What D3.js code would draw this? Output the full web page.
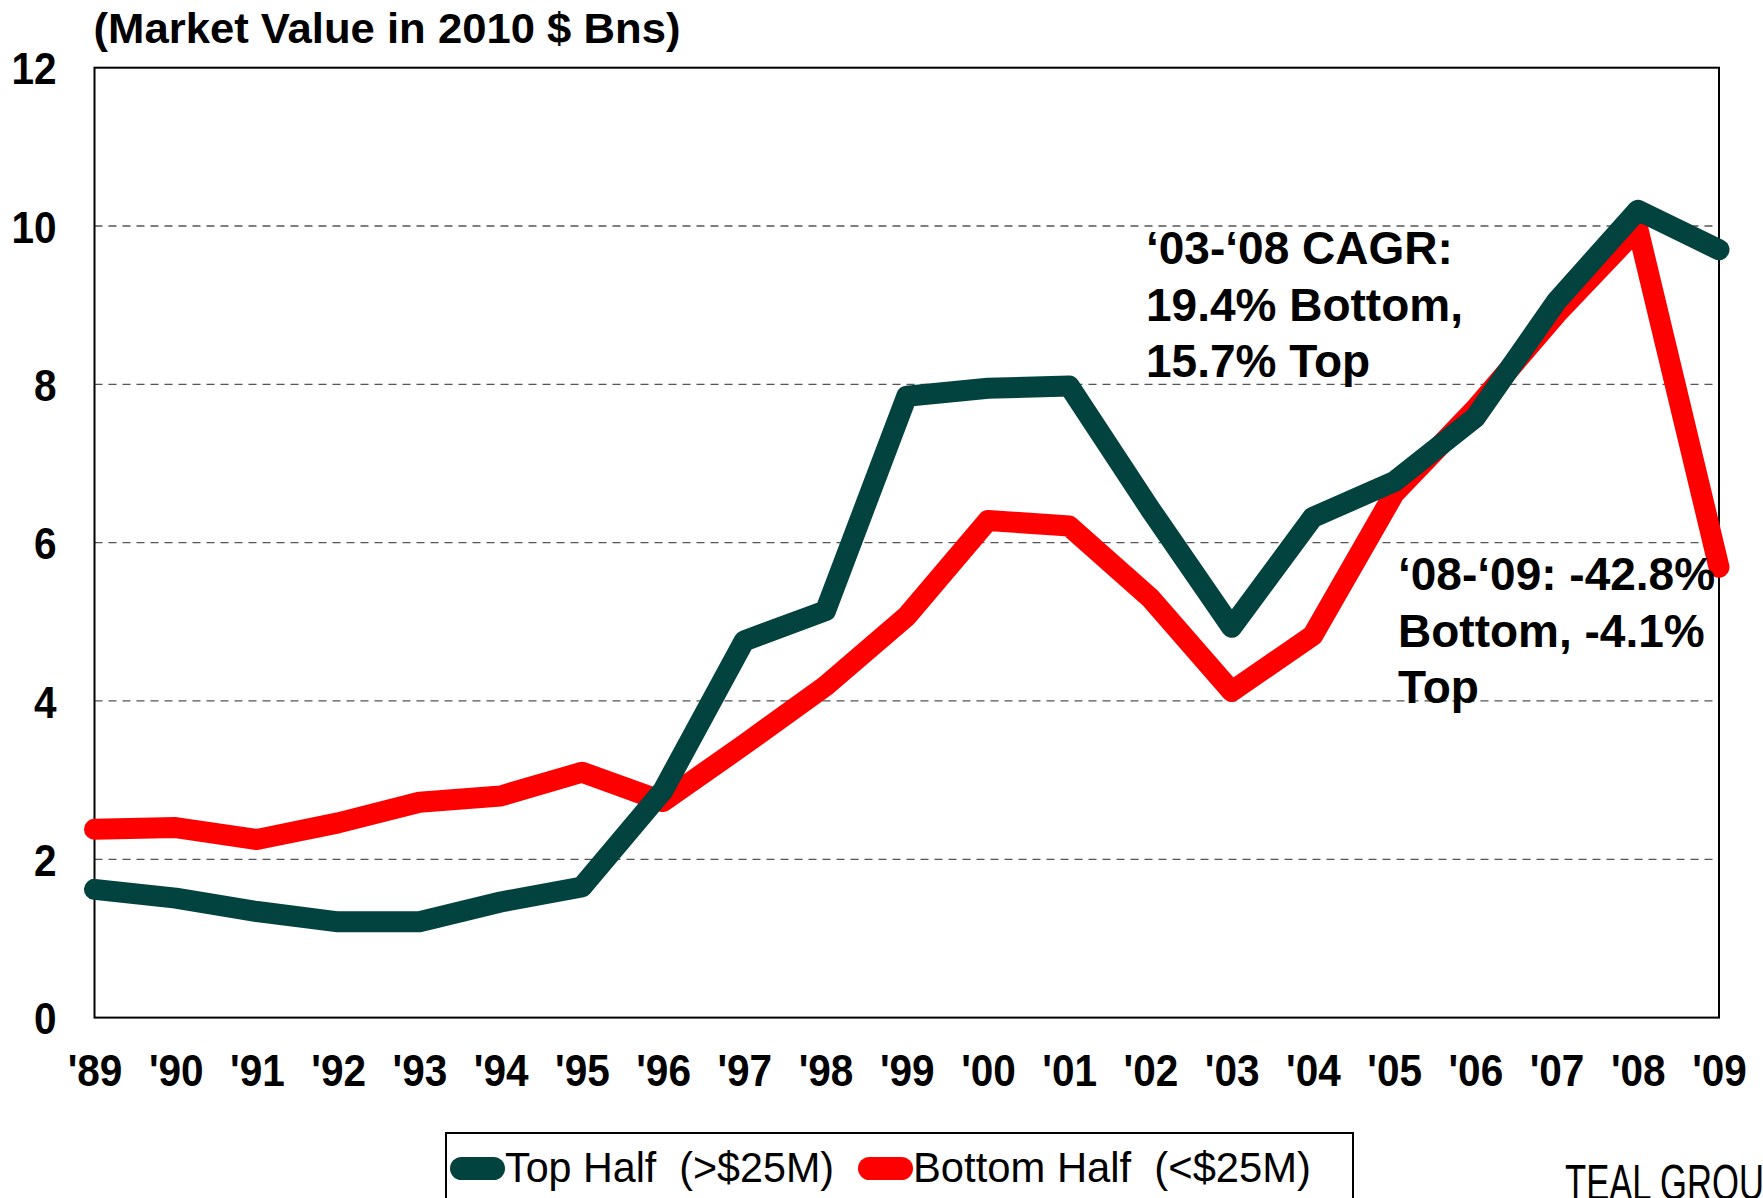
<!DOCTYPE html>
<html>
<head>
<meta charset="utf-8">
<script src="https://cdn.jsdelivr.net/npm/d3@7"></script>
<style>
body { margin: 0; background: #fff; }
svg { display: block; font-family: "Liberation Sans", Arial, sans-serif; }
</style>
</head>
<body>
<script>
var years = ["'89","'90","'91","'92","'93","'94","'95","'96","'97","'98","'99","'00","'01","'02","'03","'04","'05","'06","'07","'08","'09"];
var topHalf = [1.62, 1.51, 1.34, 1.21, 1.21, 1.46, 1.65, 2.87, 4.76, 5.14, 7.85, 7.95, 7.98, 6.42, 4.93, 6.32, 6.77, 7.58, 9.05, 10.20, 9.70];
var bottomHalf = [2.38, 2.40, 2.25, 2.46, 2.72, 2.80, 3.10, 2.73, 3.45, 4.19, 5.07, 6.28, 6.21, 5.30, 4.12, 4.83, 6.62, 7.69, 8.89, 9.97, 5.69];
var yTicks = [0, 2, 4, 6, 8, 10, 12];
var seriesNames = ["Top Half  (>$25M)", "Bottom Half  (<$25M)"];
var seriesColors = ["#02433f", "#ff0000"];
var note1 = ["\u201803-\u201808 CAGR:", "19.4% Bottom,", "15.7% Top"];
var note2 = ["\u201808-\u201809: -42.8%", "Bottom, -4.1%", "Top"];

var width = 1763, height = 1198;
var plotL = 94.5, plotR = 1719, plotT = 67.7, plotB = 1017.6;

var svg = d3.select("body").append("svg").attr("width", width).attr("height", height);

var x = d3.scalePoint().domain(years).range([plotL, plotR]);
var y = d3.scaleLinear().domain([0, 12]).range([plotB, plotT]);

// gridlines
svg.append("g").selectAll("line")
    .data(yTicks.filter(function(d){ return d > 0 && d < 12; }))
    .enter().append("line")
    .attr("x1", plotL).attr("x2", plotR)
    .attr("y1", function(d){ return y(d); }).attr("y2", function(d){ return y(d); })
    .attr("stroke", "#555").attr("stroke-width", 1.3).attr("stroke-dasharray", "8,6");

// frame
svg.append("rect").attr("x", plotL).attr("y", plotT)
    .attr("width", plotR - plotL).attr("height", plotB - plotT)
    .attr("fill", "none").attr("stroke", "#000").attr("stroke-width", 2);

function squeeze(sel, k) {
    sel.each(function(){
        var w = this.getComputedTextLength();
        d3.select(this).attr("textLength", w * k).attr("lengthAdjust", "spacingAndGlyphs");
    });
}

var yAxis = svg.append("g").attr("transform", "translate(" + plotL + ",0)")
    .call(d3.axisLeft(y).tickValues(yTicks).tickSize(0).tickPadding(38));
yAxis.select(".domain").remove();
yAxis.selectAll("text").attr("font-size", 45).attr("font-weight", "bold")
    .attr("font-family", "Liberation Sans, Arial, sans-serif").attr("fill", "#000").attr("dy", "0.36em");
squeeze(yAxis.selectAll("text"), 0.9);

var xAxis = svg.append("g").attr("transform", "translate(0," + plotB + ")")
    .call(d3.axisBottom(x).tickSize(0).tickPadding(0));
xAxis.select(".domain").remove();
xAxis.selectAll("text").attr("font-size", 45).attr("font-weight", "bold")
    .attr("font-family", "Liberation Sans, Arial, sans-serif").attr("fill", "#000")
    .attr("y", 52).attr("dy", "0.36em");
squeeze(xAxis.selectAll("text"), 0.9);

// title
svg.append("text").attr("x", plotL - 1).attr("y", 43)
    .attr("font-size", 43).attr("font-weight", "bold")
    .attr("textLength", 587).attr("lengthAdjust", "spacingAndGlyphs")
    .text("(Market Value in 2010 $ Bns)");

// lines (bottom half drawn first, top half on top)
var line = d3.line()
    .x(function(d, i){ return x(years[i]); })
    .y(function(d){ return y(d); });

[bottomHalf, topHalf].forEach(function(vals, k){
    svg.append("path").attr("d", line(vals))
        .attr("fill", "none")
        .attr("stroke", k === 0 ? seriesColors[1] : seriesColors[0])
        .attr("stroke-width", 21)
        .attr("stroke-linecap", "round")
        .attr("stroke-linejoin", "round");
});

// annotations
function note(lines, x0, y0) {
    var t = svg.append("text").attr("font-size", 46).attr("font-weight", "bold").attr("fill", "#000");
    lines.forEach(function(s, i){
        t.append("tspan").attr("x", x0).attr("y", y0 + i * 56.5).text(s);
    });
}
note(note1, 1146, 264);
note(note2, 1398, 590);

// legend
var lg = svg.append("g");
lg.append("rect").attr("x", 446).attr("y", 1133).attr("width", 907).attr("height", 120)
    .attr("fill", "#fff").attr("stroke", "#000").attr("stroke-width", 2);
var lgX = [450, 858], lgW = [329, 398];
seriesNames.forEach(function(name, i){
    lg.append("rect").attr("x", lgX[i]).attr("y", 1157).attr("width", 55).attr("height", 23)
        .attr("rx", 11.5).attr("fill", seriesColors[i]);
    lg.append("text").attr("x", lgX[i] + 55).attr("y", 1182)
        .attr("font-size", 43).style("white-space", "pre")
        .attr("textLength", lgW[i]).attr("lengthAdjust", "spacingAndGlyphs")
        .text(name);
});

// source (cut off by the right edge, as in the original)
svg.append("text").attr("x", 1565).attr("y", 1200)
    .attr("font-size", 50).attr("font-weight", 300)
    .attr("font-family", "Liberation Sans Narrow, Liberation Sans, Arial, sans-serif")
    .attr("textLength", 222).attr("lengthAdjust", "spacingAndGlyphs")
    .text("TEAL GROUP");
</script>
</body>
</html>
